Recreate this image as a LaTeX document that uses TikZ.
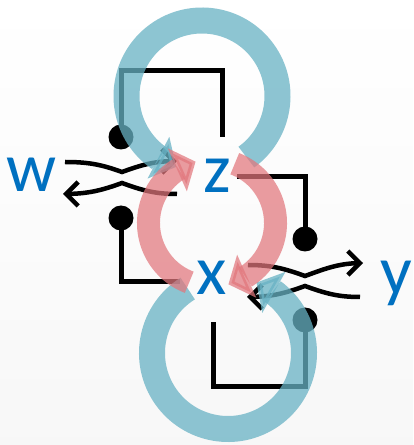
\documentclass[tikz,border=0pt]{standalone}
\usepackage{fontspec}
\setmainfont{Carlito}
\usetikzlibrary{arrows.meta,bending}
\definecolor{lblue}{RGB}{0,112,192}
\definecolor{loopblue}{RGB}{104,178,196}
\definecolor{looppink}{RGB}{226,118,124}

\begin{document}
\begin{tikzpicture}[x=1pt,y=1pt,
lbl/.style={text=lblue, font=\fontsize{70}{70}\selectfont, inner sep=0pt, anchor=base},
wire/.style={line width=5pt},
flow/.style={line width=4.5pt, -{Straight Barb[length=12pt,width=24pt]}},
knob/.style={circle, fill=black, inner sep=0pt, minimum size=25pt},
selfloop/.style={loopblue, line width=26pt, opacity=0.75, -{Triangle[width=46pt,length=20pt]}},
redarc/.style={looppink, line width=23pt, opacity=0.72, -{Triangle[width=46pt,length=20pt]}}
]
\useasboundingbox (0,0) rectangle (413,445);
\shade[top color=white, bottom color=black!3] (0,0) rectangle (413,445);

% repression brackets
\node[knob] (k1) at (121,308) {};
\node[knob] (k2) at (305,206) {};
\node[knob] (k3) at (121,227) {};
\node[knob] (k4) at (305,125) {};
\coordinate (e1) at (222,308);
\coordinate (s2) at (237,268);
\coordinate (e3) at (180,163);
\coordinate (e4) at (213,123);
\draw[wire] (k1.center) -- (121,374) -- (222,374) -- (e1);
\draw[wire] (s2) -- (305,268) -- (k2.center);
\draw[wire] (k3.center) -- (121,163) -- (e3);
\draw[wire] (k4.center) -- (305,58) -- (213,58) -- (e4);

% crossing arrows
\coordinate (a1) at (65,283);  \coordinate (m1) at (122,273); \coordinate (b1) at (177,284);
\coordinate (a2) at (177,251); \coordinate (m2) at (122,262); \coordinate (b2) at (63,251);
\coordinate (a3) at (248,180); \coordinate (m3) at (305,169); \coordinate (b3) at (363,182);
\coordinate (a4) at (360,148); \coordinate (m4) at (305,159); \coordinate (b4) at (247,148);
\draw[flow] (a1) to[out=0,in=160] (m1) to[out=20,in=180] (b1);
\draw[flow] (a2) to[out=180,in=-20] (m2) to[out=200,in=0] (b2);
\draw[flow] (a3) to[out=0,in=160] (m3) to[out=20,in=180] (b3);
\draw[flow] (a4) to[out=180,in=-20] (m4) to[out=200,in=0] (b4);

% loops
\coordinate (topc) at (202,349);
\coordinate (botc) at (228,92);
\coordinate (midc) at (212,222);
\draw[selfloop] (topc) ++(-54:75.5) arc[start angle=-54, end angle=250, radius=75.5];
\draw[selfloop] (botc) ++(122:76) arc[start angle=122, end angle=428, radius=76];
\draw[redarc] (midc) ++(-111:63.5) arc[start angle=-111, end angle=-255, radius=63.5];
\draw[redarc] (midc) ++(69:63.5) arc[start angle=69, end angle=-75, radius=63.5];

% labels
\node[lbl] (w) at (32,253) {w};
\node[lbl] (z) at (217,252) {z};
\node[lbl] (x) at (212,150) {x};
\node[lbl] (y) at (396,150) {y};
\end{tikzpicture}
\end{document}
